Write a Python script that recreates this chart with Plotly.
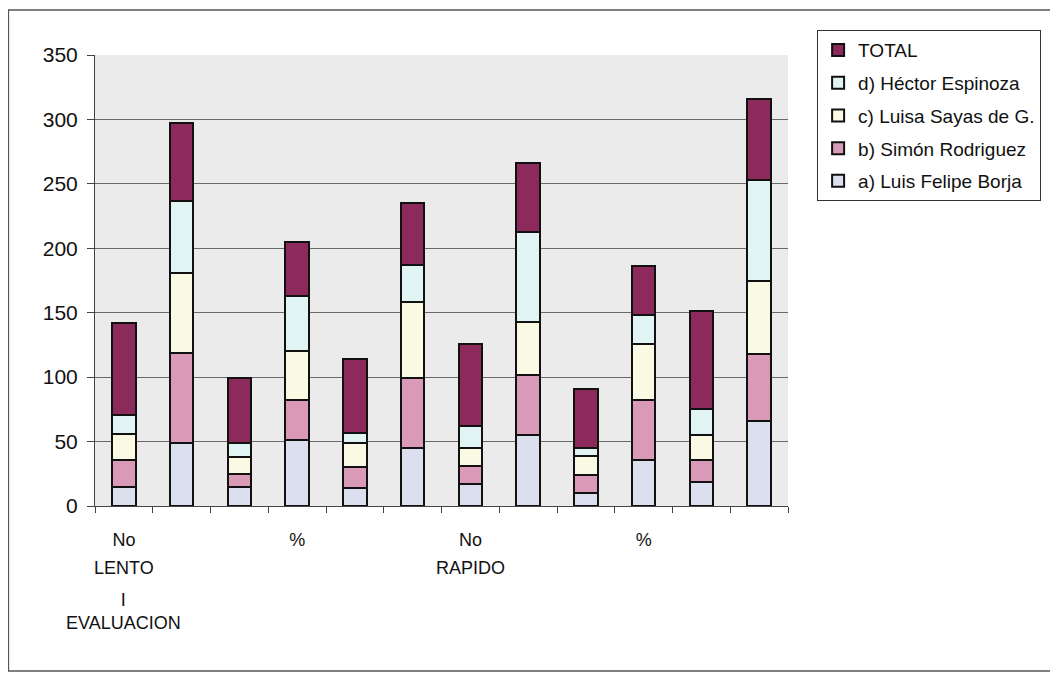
import plotly.graph_objects as go

# ---- data ----
categories = ["No", "%", "No", "%", "No", "%", "No", "%", "No", "%", "No", "%"]
speed_groups = ["LENTO"] * 6 + ["RAPIDO"] * 6
evaluation = "I<br>EVALUACION"
label_every = 3

series_names = ["a) Luis Felipe Borja", "b) Simón Rodriguez", "c) Luisa Sayas de G.",
                "d) Héctor Espinoza", "TOTAL"]
a_borja = [15, 49, 15, 51, 14, 45, 17, 55, 10, 36, 19, 66]
b_rodriguez = [21, 70, 10, 31, 16, 54, 14, 47, 14, 46, 17, 52]
c_sayas = [20, 62, 13, 38, 19, 59, 14, 41, 15, 44, 19, 57]
d_espinoza = [15, 56, 11, 43, 8, 29, 17, 70, 6, 22, 20, 78]
total = [71, 60, 50, 42, 57, 48, 64, 53, 46, 38, 76, 63]

series_values = [a_borja, b_rodriguez, c_sayas, d_espinoza, total]
colors = ["#dcdfee", "#d89ab6", "#fafae4", "#e0f5f3", "#8c2a5c"]

y_ticks = [0, 50, 100, 150, 200, 250, 300, 350]

# ---- build ----
x = list(range(len(categories)))
n_series = len(series_names)

fig = go.Figure()
for k, (name, vals, col) in enumerate(zip(series_names, series_values, colors)):
    fig.add_trace(go.Bar(
        x=x, y=vals, name=name, legendgroup=name,
        legendrank=n_series - k,
        marker=dict(color=col, line=dict(color="#111111", width=2)),
    ))

tickvals = x[::label_every]
ticktext = [categories[i] for i in tickvals]

font_family = "Arial, Liberation Sans, sans-serif"
label_font = dict(size=18, family=font_family, color="#111111")

annotations = []
for i in tickvals:
    if i == 0 or speed_groups[i] != speed_groups[i - 1]:
        annotations.append(dict(
            x=i, y=-0.1375, xref="x", yref="paper", text=speed_groups[i],
            showarrow=False, xanchor="center", yanchor="middle", font=label_font))
annotations.append(dict(
    x=0, y=-0.235, xref="x", yref="paper", text=evaluation,
    showarrow=False, xanchor="center", yanchor="middle", font=label_font))

fig.update_layout(
    barmode="stack",
    bargap=0.59,
    width=1050, height=665,
    margin=dict(l=87, r=270, t=47, b=167),
    paper_bgcolor="white",
    plot_bgcolor="#ebebeb",
    font=dict(family=font_family, color="#111111"),
    showlegend=True,
    legend=dict(
        x=1.042, y=1.055, xanchor="left", yanchor="top",
        traceorder="grouped", tracegroupgap=5,
        bgcolor="white", bordercolor="#333333", borderwidth=1,
        font=dict(size=19, family=font_family, color="#111111"),
    ),
    xaxis=dict(
        range=[-0.5, len(categories) - 0.5],
        tickmode="array", tickvals=tickvals, ticktext=ticktext,
        ticks="", showgrid=False, zeroline=False,
        showline=True, linecolor="#444444", linewidth=1,
        tickfont=label_font,
        ticklabelstandoff=17,
        minor=dict(tickvals=[v - 0.5 for v in x] + [x[-1] + 0.5],
                   ticks="outside", ticklen=6, tickcolor="#444444", showgrid=False),
    ),
    yaxis=dict(
        range=[0, 350], tickvals=y_ticks,
        ticks="outside", ticklen=7, tickcolor="#444444",
        ticklabelstandoff=5,
        showgrid=True, gridcolor="#6a6a6a", gridwidth=1,
        zeroline=False, showline=True, linecolor="#444444", linewidth=1,
        tickfont=dict(size=21, family=font_family, color="#111111"),
    ),
    annotations=annotations,
    shapes=[dict(
        type="rect", xref="paper", yref="paper",
        x0=-0.125, x1=1.40, y0=-0.366, y1=1.10,
        line=dict(color="#555555", width=1.5), fillcolor="rgba(0,0,0,0)",
        layer="below",
    )],
)

fig.write_html("out.html")
